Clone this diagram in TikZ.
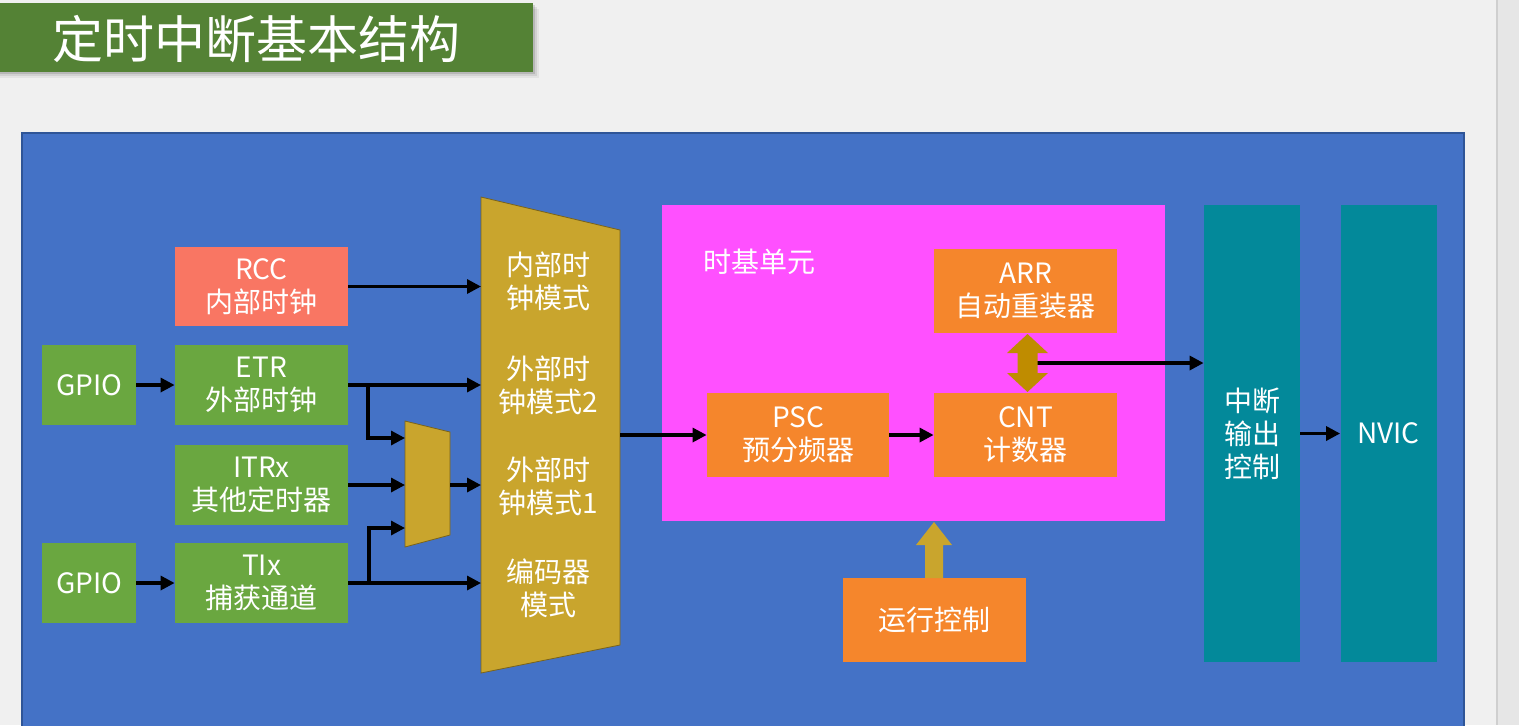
\documentclass[tikz,border=0pt]{standalone}
\usepackage{fontspec}
\setmainfont{Noto Sans CJK SC}
\usetikzlibrary{arrows.meta}
\definecolor{bgc}{HTML}{F0F0F0}
\definecolor{scrollc}{HTML}{E6E6E6}
\definecolor{scrollline}{HTML}{CFCFCF}
\definecolor{panelc}{HTML}{4472C6}
\definecolor{panelb}{HTML}{2F5597}
\definecolor{titlec}{HTML}{548235}
\definecolor{greenc}{HTML}{6AA740}
\definecolor{salmonc}{HTML}{F97663}
\definecolor{orangec}{HTML}{F5862C}
\definecolor{magc}{HTML}{FF50FF}
\definecolor{tealc}{HTML}{03899A}
\definecolor{goldc}{HTML}{C9A52D}
\definecolor{darkgold}{HTML}{BF8C00}
\tikzset{
  txt/.style={text=white, align=center, font=\fontsize{14pt}{16.5pt}\selectfont, inner sep=0pt},
  gbox/.style={txt, fill=greenc, minimum width=47pt, minimum height=40pt},
  lbox/.style={txt, fill=greenc, minimum width=86.5pt, minimum height=40pt},
  rbox/.style={txt, fill=salmonc, minimum width=86.5pt, minimum height=39.5pt},
  obox/.style={txt, fill=orangec, minimum width=91.5pt, minimum height=42pt},
  tbox/.style={txt, fill=tealc, minimum width=48pt, minimum height=228.5pt},
  conn/.style={line width=1.6pt, black, -{Triangle[length=7pt,width=7pt]}},
  plain/.style={line width=1.6pt, black}
}
\begin{document}
\begin{tikzpicture}[x=0.5pt,y=-0.5pt]
\useasboundingbox (0,0) rectangle (1519,725);
\fill[bgc] (0,0) rectangle (1519,725);
\fill[scrollc] (1497,0) rectangle (1519,725);
\draw[scrollline, line width=0.8pt] (1497,0) -- (1497,725);
% title
\foreach \o/\a in {6/0.05,4/0.08,2/0.12}{
  \fill[black, opacity=\a] (0,3+\o) rectangle (533+\o,72+\o);
}
\fill[titlec] (0,3) rectangle (533,72);
\node[text=white, font=\fontsize{25.5pt}{28pt}\selectfont, inner sep=0pt] (title) at (256,39) {定时中断基本结构};
% panel
\fill[panelc] (22,133) rectangle (1464,740);
\draw[panelb, line width=0.8pt] (22,740) -- (22,133) -- (1464,133) -- (1464,740);
% left boxes
\node[rbox] (rcc) at (261.5,286.5) {RCC\\内部时钟};
\node[gbox] (gpio1) at (89,385) {GPIO};
\node[lbox] (etr) at (261.5,385) {ETR\\外部时钟};
\node[lbox] (itrx) at (261.5,485) {ITRx\\其他定时器};
\node[gbox] (gpio2) at (89,583) {GPIO};
\node[lbox] (tix) at (261.5,583) {TIx\\捕获通道};
% big mux
\fill[goldc, draw=goldc!60!black, line width=0.4pt] (481,197) -- (620,230) -- (620,645) -- (481,673) -- cycle;
\node[txt] (m1) at (548,281) {内部时\\钟模式};
\node[txt] (m2) at (548,385) {外部时\\钟模式2};
\node[txt] (m3) at (548,486) {外部时\\钟模式1};
\node[txt] (m4) at (548,588) {编码器\\模式};
\coordinate (mi1) at (481,286.5);
\coordinate (mi2) at (481,385);
\coordinate (mi3) at (481,485);
\coordinate (mi4) at (481,583);
\coordinate (mo) at (620,435);
% small mux
\fill[goldc, draw=goldc!60!black, line width=0.4pt] (405,421) -- (450,432) -- (450,535) -- (405,547) -- cycle;
\coordinate (si1) at (405,438);
\coordinate (si2) at (405,485);
\coordinate (si3) at (405,528);
\coordinate (so) at (450,485);
\coordinate (b1) at (368,385);
\coordinate (b2) at (369,583);
% time base unit
\node[fill=magc, minimum width=251.5pt, minimum height=158pt, inner sep=0pt] (tb) at (913.5,363) {};
\node[txt, anchor=west] (tblabel) at (703,262) {时基单元};
\node[obox] (arr) at (1025.5,291) {ARR\\自动重装器};
\node[obox, minimum width=91pt] (psc) at (798,435) {PSC\\预分频器};
\node[obox] (cnt) at (1025.5,435) {CNT\\计数器};
\node[obox] (run) at (934.5,620) {运行控制};
% right columns
\node[tbox] (intc) at (1252,433.5) {中断\\输出\\控制};
\node[tbox] (nvic) at (1388.5,433.5) {NVIC};
% connectors
\draw[conn] (rcc.east) -- (mi1);
\draw[conn] (gpio1) -- (etr);
\draw[conn] (etr.east) -- (mi2);
\draw[conn] (b1) |- (si1);
\draw[conn] (itrx) -- (si2);
\draw[conn] (so) -- (mi3);
\draw[conn] (gpio2) -- (tix);
\draw[conn] (tix.east) -- (mi4);
\draw[conn] (b2) |- (si3);
\draw[conn] (mo) -- (psc);
\draw[conn] (psc) -- (cnt);
\coordinate (ac) at (1030,363);
\draw[conn] (ac) -- (ac -| intc.west);
\draw[conn] (intc) -- (nvic);
% double arrow ARR <-> CNT
\fill[darkgold] (1027.5,334) -- (1048,353) -- (1037.5,353) -- (1037.5,373) -- (1048,373) -- (1027.5,392) -- (1007,373) -- (1017.5,373) -- (1017.5,353) -- (1007,353) -- cycle;
% run control block arrow
\fill[goldc] (934,522) -- (952,545) -- (943,545) -- (943,578) -- (925,578) -- (925,545) -- (916,545) -- cycle;
\end{tikzpicture}
\end{document}
